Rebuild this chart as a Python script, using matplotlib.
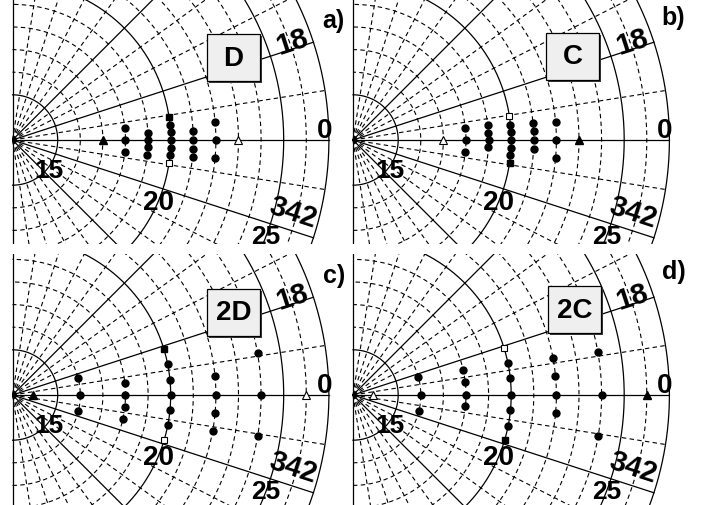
import numpy as np
import matplotlib.pyplot as plt
from matplotlib.patches import Rectangle
from matplotlib.transforms import Bbox, TransformedBbox

plt.rcParams['font.family'] = ['Liberation Sans', 'DejaVu Sans']

W, H = 715, 506
PX = 22.6            # pixels per radial unit
RMIN, RMAX = 13, 27

# grid of the polar charts
arcs_solid = [15, 20, 25, 27]
arcs_dash = [16, 17, 18, 19, 21, 22, 23, 24, 26]
rays_solid = [-90, -45, -18, 0, 18, 45, 90]
rays_dash = [-81, -72, -63, -54, -36, -27, -9, 9, 27, 36, 54, 63, 72, 81]

# scale labels: text, radius, angle (deg), rotation
lab_text = ['15', '20', '25', '18', '0', '342']
lab_r = [15.1, 20.0, 25.0, 26.1, 26.8, 25.8]
lab_th = [-39, -23, -20.7, 19.5, 1.9, -14.4]
lab_rot = [0, 0, 0, 18, 0, -18]
lab_size = [19, 20, 19, 21, 20, 21]

names = ['D', 'C', '2D', '2C']
tags = ['a)', 'b)', 'c)', 'd)']

# panel a) D  -- radius, angle in degrees
dots_D_r = [18, 18, 18, 19, 19, 19, 19, 20, 20, 20, 20, 20, 21, 21, 21, 21, 22, 22, 22]
dots_D_th = [6, 0, -6, 3.1, 0, -3.1, -6.2, 5.6, 2.8, 0, -2.8, -5.6, 2.7, 0, -2.7, -5.3, 5.1, 0, -5.1]
sq_fill_D = [20, 8.4]
sq_open_D = [20, -8.4]
tri_fill_D = [17, 0]
tri_open_D = [23, 0]

# panel b) C
dots_C_r = [18, 18, 18, 19, 19, 19, 19, 20, 20, 20, 20, 20, 21, 21, 21, 21, 22, 22, 22]
dots_C_th = [6.2, 0, -6.2, 6.2, 3.1, 0, -3.1, 5.6, 2.8, 0, -2.8, -5.6, 5.3, 2.7, 0, -2.7, 5.1, 0, -5.1]
sq_fill_C = [20, -8.2]
sq_open_C = [20, 8.6]
tri_fill_C = [23, 0]
tri_open_C = [17, 0]

# panel c) 2D
dots_2D_r = [16, 16, 16, 18, 18, 18, 18, 20, 20, 20, 20, 20, 22, 22, 22, 22, 24, 24, 24]
dots_2D_th = [14.3, 0, -13.8, 6.2, 0, -6.1, -12.2, 11.2, 5.6, 0, -5.6, -11.1, 5.3, 0, -5.1, -10.2, 9.7, 0, -9.5]
sq_fill_2D = [20, 16.8]
sq_open_2D = [20, -16.4]
tri_fill_2D = [13.9, 0]
tri_open_2D = [26, 0]

# panel d) 2C
dots_2C_r = [16, 16, 16, 18, 18, 18, 18, 20, 20, 20, 20, 20, 22, 22, 22, 22, 24, 24, 24]
dots_2C_th = [15, 0, -13.8, 12.6, 6.5, 0, -5.8, 11.6, 6.1, 0, -5.5, -11.2, 10.6, 5.4, 0, -5.1, 9.9, 0, -9.6]
sq_fill_2C = [20, -16.6]
sq_open_2C = [20, 17.3]
tri_fill_2C = [26, 0]
tri_open_2C = [13.9, 0]

panels = [
    (dots_D_r, dots_D_th, sq_fill_D, sq_open_D, tri_fill_D, tri_open_D),
    (dots_C_r, dots_C_th, sq_fill_C, sq_open_C, tri_fill_C, tri_open_C),
    (dots_2D_r, dots_2D_th, sq_fill_2D, sq_open_2D, tri_fill_2D, tri_open_2D),
    (dots_2C_r, dots_2C_th, sq_fill_2C, sq_open_2C, tri_fill_2C, tri_open_2C),
]

# layout in pixels (from top-left)
origins = [(12.5, 141), (353, 141), (12.5, 396), (353, 396)]
clips = [(12, 0, 353, 245), (352, 0, 715, 245), (12, 255, 353, 506), (352, 255, 715, 506)]
boxes = [(207, 35), (546, 34), (207, 290), (548, 287)]
tag_pos = [(333, 21), (673, 18), (334, 276), (674, 272)]

fig = plt.figure(figsize=(W / 100, H / 100), dpi=100)
R = (RMAX - RMIN) * PX

for i in range(4):
    ox, oy = origins[i]
    ax = fig.add_axes([(ox - 0.5 * R) / W, (H - oy - R) / H, 2 * R / W, 2 * R / H],
                      projection='polar')
    x0, y0, x1, y1 = clips[i]
    cbox = TransformedBbox(Bbox.from_extents(x0 / W, (H - y1) / H, x1 / W, (H - y0) / H),
                           fig.transFigure)
    arts = []
    th = np.linspace(-np.pi / 2, np.pi / 2, 500)
    for r in arcs_solid:
        arts += ax.plot(th, np.full_like(th, r), color='k', lw=0.9)
    for r in arcs_dash:
        arts += ax.plot(th, np.full_like(th, r), color='k', lw=0.8, ls=(0, (4, 3)))
    for a in rays_solid:
        arts += ax.plot([np.deg2rad(a)] * 2, [RMIN, RMAX], color='k', lw=0.9)
    for a in rays_dash:
        arts += ax.plot([np.deg2rad(a)] * 2, [RMIN, RMAX], color='k', lw=0.8, ls=(0, (4, 3)))

    dr, dth, sqf, sqo, trf, tro = panels[i]
    arts += ax.plot(np.deg2rad(dth), dr, 'o', color='k', ms=5, ls='none')
    arts += ax.plot(np.deg2rad(sqf[1]), sqf[0], 's', color='k', ms=4.8)
    arts += ax.plot(np.deg2rad(sqo[1]), sqo[0], 's', mfc='white', mec='k', mew=0.8, ms=4.8)
    arts += ax.plot(np.deg2rad(trf[1]), trf[0], '^', color='k', ms=5.8)
    arts += ax.plot(np.deg2rad(tro[1]), tro[0], '^', mfc='white', mec='k', mew=0.8, ms=5.8)

    for a in arts:
        a.set_clip_path(None)
        a.set_clip_box(cbox)

    for t, r, a, rot, fs in zip(lab_text, lab_r, lab_th, lab_rot, lab_size):
        ax.text(np.deg2rad(a), r, t, ha='center', va='center', rotation=rot,
                fontsize=fs, fontweight='bold', rotation_mode='anchor')

    ax.set_thetamin(-90)
    ax.set_thetamax(90)
    ax.set_rlim(RMIN, RMAX)
    ax.set_axis_off()

    # label box with shadow
    bx, by = boxes[i]
    bw, bh = 53, 47
    fig.add_artist(Rectangle(((bx + 2) / W, (H - by - bh - 2) / H), bw / W, bh / H,
                             transform=fig.transFigure, fc='#3a3a3a', ec='none', zorder=2))
    fig.add_artist(Rectangle((bx / W, (H - by - bh) / H), bw / W, bh / H,
                             transform=fig.transFigure, fc='#efefef', ec='k', lw=0.9, zorder=3))
    fig.text((bx + bw / 2) / W, (H - by - bh / 2) / H, names[i], ha='center', va='center',
             fontsize=20, fontweight='bold', zorder=4)

    tx, ty = tag_pos[i]
    fig.text(tx / W, (H - ty) / H, tags[i], ha='center', va='center',
             fontsize=18, fontweight='bold')

fig.savefig('out.png', dpi=100)
